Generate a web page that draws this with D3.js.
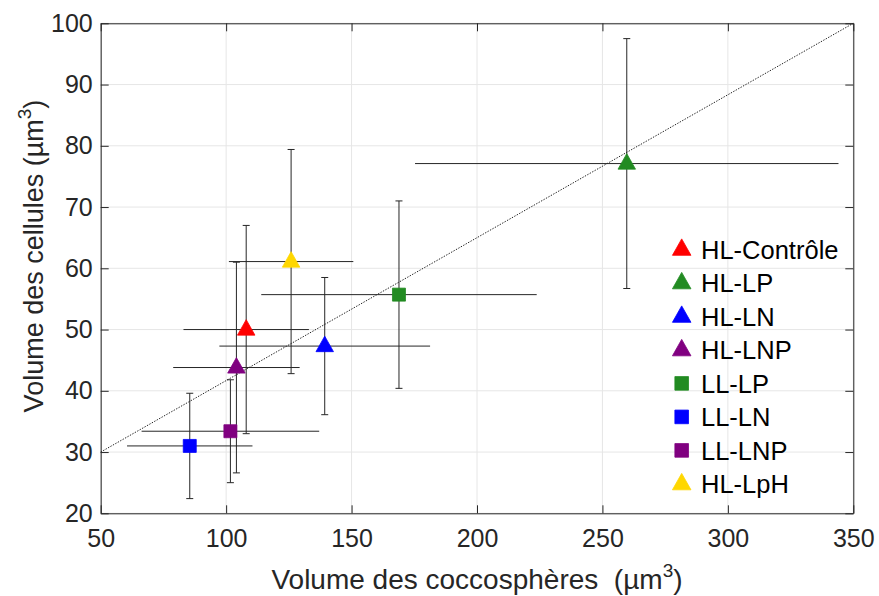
<!DOCTYPE html>
<html>
<head>
<meta charset="utf-8">
<script src="https://cdn.jsdelivr.net/npm/d3@7"></script>
<style>
  html, body { margin: 0; padding: 0; background: #fff; }
  svg { display: block; font-family: "Liberation Sans", Arial, sans-serif; }
</style>
</head>
<body>
<svg id="chart" width="879" height="596"></svg>
<script>
// ---- data ----
const seriesNames = ["HL-Contrôle", "HL-LP", "HL-LN", "HL-LNP", "LL-LP", "LL-LN", "LL-LNP", "HL-LpH"];
const seriesShapes = ["triangle", "triangle", "triangle", "triangle", "square", "square", "square", "triangle"];
const seriesColors = ["#ff0000", "#228b22", "#0000ff", "#800080", "#228b22", "#0000ff", "#800080", "#ffd700"];
const xValues = [108.0, 259.7, 139.3, 104.1, 168.9, 85.5, 101.7, 125.9];
const yValues = [50.0, 77.1, 47.3, 43.8, 55.7, 31.0, 33.4, 61.1];
const xErrors = [25.0, 84.4, 42.0, 25.2, 54.9, 25.0, 35.4, 24.8];
const yErrors = [17.0, 20.4, 11.2, 17.2, 15.3, 8.6, 8.4, 18.3];
const xTicks = [50, 100, 150, 200, 250, 300, 350];
const yTicks = [20, 30, 40, 50, 60, 70, 80, 90, 100];
const refLineX = [50, 350];
const refLineY = [30, 100];

// ---- layout ----
const svg = d3.select("#chart");
const L = 100.7, R = 853.3, T = 23.3, B = 513.3;
const x = d3.scaleLinear().domain([50, 350]).range([L, R]);
const y = d3.scaleLinear().domain([20, 100]).range([B, T]);
const axisColor = "#262626";

// grid
const grid = svg.append("g");
grid.selectAll(".gx").data(xTicks).enter().append("line")
  .attr("x1", d => x(d)).attr("x2", d => x(d)).attr("y1", T).attr("y2", B)
  .attr("stroke", "#e6e6e6").attr("stroke-width", 1);
grid.selectAll(".gy").data(yTicks).enter().append("line")
  .attr("x1", L).attr("x2", R).attr("y1", d => y(d)).attr("y2", d => y(d))
  .attr("stroke", "#e6e6e6").attr("stroke-width", 1);

// reference line
svg.append("line")
  .attr("x1", x(refLineX[0])).attr("y1", y(refLineY[0]))
  .attr("x2", x(refLineX[1])).attr("y2", y(refLineY[1]))
  .attr("stroke", "#222").attr("stroke-width", 1)
  .attr("stroke-dasharray", "1.4,1.4");

// axes (box with inward ticks)
const tickLen = 8;
const axBottom = d3.axisBottom(x).tickValues(xTicks).tickSizeInner(-tickLen).tickSizeOuter(0).tickPadding(15.5);
const axTop = d3.axisTop(x).tickValues(xTicks).tickSizeInner(-tickLen).tickSizeOuter(0).tickFormat("");
const axLeft = d3.axisLeft(y).tickValues(yTicks).tickSizeInner(-tickLen).tickSizeOuter(0).tickPadding(8);
const axRight = d3.axisRight(y).tickValues(yTicks).tickSizeInner(-tickLen).tickSizeOuter(0).tickFormat("");

function styleAxis(g) {
  g.selectAll("path").attr("stroke", axisColor).attr("stroke-width", 1);
  g.selectAll("line").attr("stroke", axisColor).attr("stroke-width", 1);
  g.selectAll("text").attr("fill", axisColor).style("font-size", "25px")
    .style("font-family", "'Liberation Sans', Arial, sans-serif");
}
svg.append("g").attr("transform", `translate(0,${B})`).call(axBottom).call(styleAxis);
svg.append("g").attr("transform", `translate(0,${T})`).call(axTop).call(styleAxis);
svg.append("g").attr("transform", `translate(${L},0)`).call(axLeft).call(styleAxis);
svg.append("g").attr("transform", `translate(${R},0)`).call(axRight).call(styleAxis);

// data rows
const rows = seriesNames.map((n, i) => ({
  name: n, shape: seriesShapes[i], color: seriesColors[i],
  x: xValues[i], y: yValues[i], ex: xErrors[i], ey: yErrors[i]
}));

// error bars
const eb = svg.append("g").attr("stroke", axisColor).attr("stroke-width", 1);
const capW = 3.5;
rows.forEach(d => {
  eb.append("line").attr("x1", x(d.x - d.ex)).attr("x2", x(d.x + d.ex))
    .attr("y1", y(d.y)).attr("y2", y(d.y));
  eb.append("line").attr("x1", x(d.x)).attr("x2", x(d.x))
    .attr("y1", y(d.y - d.ey)).attr("y2", y(d.y + d.ey));
  [d.y - d.ey, d.y + d.ey].forEach(v => {
    eb.append("line").attr("x1", x(d.x) - capW).attr("x2", x(d.x) + capW)
      .attr("y1", y(v)).attr("y2", y(v));
  });
});

// markers
function markerPath(shape, s) {
  if (shape === "triangle") {
    const w = 17.5 * s, h = 15.5 * s;
    return `M0,${-h * 0.64}L${w / 2},${h * 0.36}L${-w / 2},${h * 0.36}Z`;
  }
  const a = 13 * s / 2;
  return `M${-a},${-a}L${a},${-a}L${a},${a}L${-a},${a}Z`;
}
svg.append("g").selectAll("path").data(rows).enter().append("path")
  .attr("d", d => markerPath(d.shape, 1))
  .attr("transform", d => `translate(${x(d.x)},${y(d.y)})`)
  .attr("fill", d => d.color)
  .attr("stroke", d => d.color).attr("stroke-width", 0.8).attr("stroke-linejoin", "round");

// legend
const legX = 681.7, legTextX = 701, legY0 = 249.4, legDy = 33.5;
const leg = svg.append("g");
rows.forEach((d, i) => {
  const cy = legY0 + i * legDy;
  leg.append("path").attr("d", markerPath(d.shape, d.shape === "triangle" ? 1.06 : 1.05))
    .attr("transform", `translate(${legX},${cy})`)
    .attr("fill", d.color).attr("stroke", d.color).attr("stroke-width", 0.8)
    .attr("stroke-linejoin", "round");
  leg.append("text").attr("x", legTextX).attr("y", cy + 9.2)
    .attr("fill", "#000").style("font-size", "25.5px").text(d.name);
});

// axis labels
const xl = svg.append("text").attr("x", (L + R) / 2).attr("y", 589)
  .attr("text-anchor", "middle").attr("fill", axisColor).style("font-size", "28px");
xl.append("tspan").text("Volume des coccosphères\u00a0\u00a0(µm");
xl.append("tspan").attr("dy", -12).style("font-size", "19px").text("3");
xl.append("tspan").attr("dy", 12).text(")");

const yl = svg.append("text").attr("transform", `translate(43,256) rotate(-90)`)
  .attr("text-anchor", "middle").attr("fill", axisColor).style("font-size", "27px");
yl.append("tspan").text("Volume des cellules (µm");
yl.append("tspan").attr("dy", -12).style("font-size", "19px").text("3");
yl.append("tspan").attr("dy", 12).text(")");
</script>
</body>
</html>
